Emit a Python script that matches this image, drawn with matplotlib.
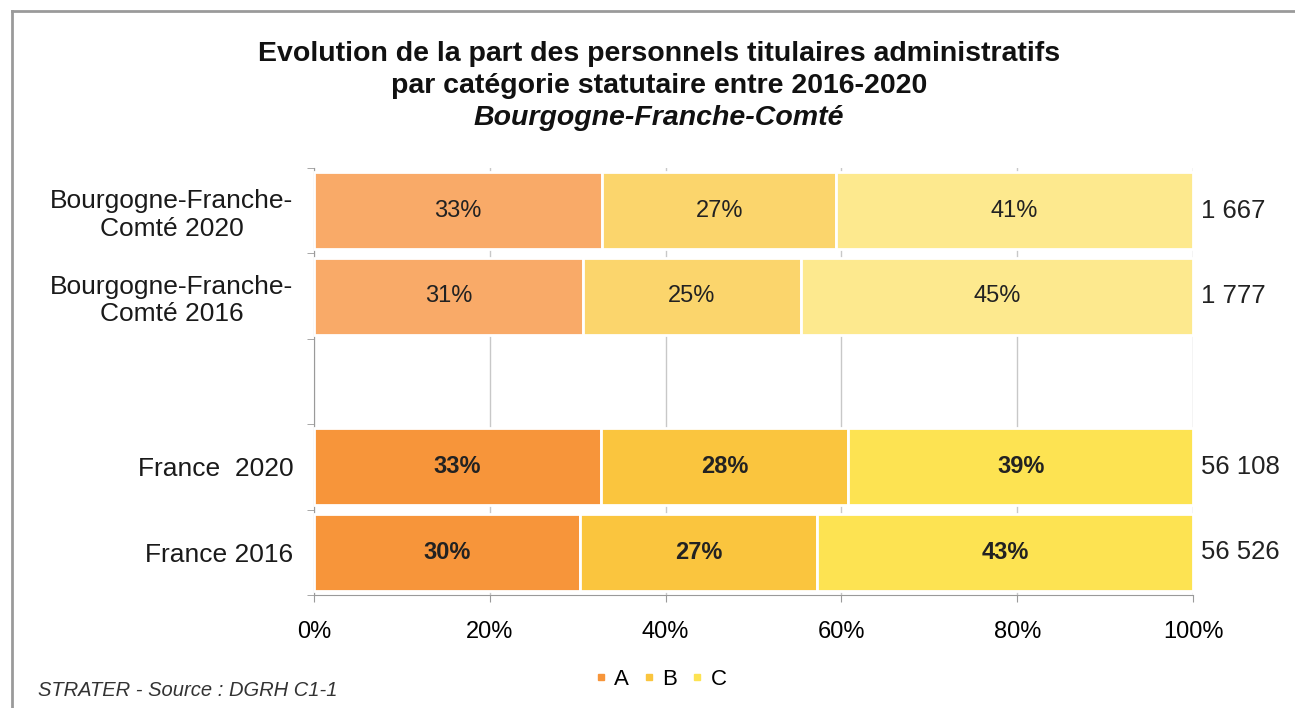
import numpy as np
import matplotlib.pyplot as plt
from matplotlib.lines import Line2D
from matplotlib.transforms import blended_transform_factory

plt.rcParams['font.family'] = ['Liberation Sans', 'DejaVu Sans']

# rows from top to bottom; an empty row separates the region from France
row_labels = ["Bourgogne-Franche-\nComté 2020", "Bourgogne-Franche-\nComté 2016",
              "France  2020", "France 2016"]
row_pos = [0, 1, 3, 4]
cat_a = [32.8, 30.6, 32.6, 30.3]
cat_b = [26.6, 24.8, 28.2, 26.9]
cat_c = [40.6, 44.6, 39.2, 42.8]
effectifs = ["1 667", "1 777", "56 108", "56 526"]
is_france = [False, False, True, True]

colors_region = ["#F9AA68", "#FBD56C", "#FDE98E"]
colors_france = ["#F7953A", "#FAC53E", "#FDE352"]

fig = plt.figure(figsize=(12.95, 7.08), dpi=100)
ax = fig.add_axes([0.2425, 0.1596, 0.6788, 0.6031])

left = np.zeros(len(row_pos))
for k, vals in enumerate([cat_a, cat_b, cat_c]):
    cols = [colors_france[k] if f else colors_region[k] for f in is_france]
    bars = ax.barh(row_pos, vals, left=left, height=0.9, color=cols,
                   edgecolor="white", linewidth=2, zorder=3)
    for b, v, f in zip(bars, vals, is_france):
        ax.text(b.get_x() + b.get_width() / 2, b.get_y() + b.get_height() / 2,
                f"{round(v):d}%", ha="center", va="center", fontsize=17,
                color="#222222", fontweight="bold" if f else "normal", zorder=4)
    left += np.array(vals)

# totals on the right of each bar
trans = blended_transform_factory(ax.transAxes, ax.transData)
for y, n in zip(row_pos, effectifs):
    ax.text(1.009, y, n, transform=trans, ha="left", va="center",
            fontsize=18.5, color="#222222")

ax.set_xlim(0, 100)
ax.set_ylim(4.5, -0.5)
ax.set_xticks(np.arange(0, 101, 20))
ax.set_xticklabels([f"{t}%" for t in range(0, 101, 20)], fontsize=17)
ax.set_yticks(row_pos)
ax.set_yticklabels(row_labels, fontsize=19, multialignment="center",
                   color="#1a1a1a")
ax.set_yticks(np.arange(-0.5, 4.6, 1), minor=True)
ax.tick_params(axis="y", which="major", length=0, pad=15)
ax.tick_params(axis="y", which="minor", length=5, color="#9a9a9a")
ax.tick_params(axis="x", length=5, color="#9a9a9a", pad=14)
ax.xaxis.grid(True, color="#c8c8c8", linewidth=1, zorder=0)
ax.set_axisbelow(True)
for s in ["top", "right"]:
    ax.spines[s].set_visible(False)
for s in ["left", "bottom"]:
    ax.spines[s].set_color("#9a9a9a")

title_lines = ["Evolution de la part des personnels titulaires administratifs",
               "par catégorie statutaire entre 2016-2020",
               "Bourgogne-Franche-Comté"]
for i, (line, y) in enumerate(zip(title_lines, [0.9236, 0.8784, 0.8332])):
    fig.text(0.509, y, line, ha="center", va="center", fontsize=20.5,
             fontweight="bold", style="italic" if i == 2 else "normal",
             color="#111111")

handles = [Line2D([], [], marker="s", linestyle="", markersize=5, color=c)
           for c in colors_france]
fig.legend(handles, ["A", "B", "C"], loc="center", bbox_to_anchor=(0.51, 0.04),
           ncol=3, frameon=False, fontsize=16, handlelength=0.6,
           handletextpad=0.3, columnspacing=0.6)

fig.text(0.029, 0.025, "STRATER - Source : DGRH C1-1", ha="left", va="center",
         fontsize=14.5, style="italic", color="#333333")

# frame around the chart area
fig.add_artist(Line2D([12 / 1295, 1], [1 - 11 / 708, 1 - 11 / 708],
                      transform=fig.transFigure, color="#9a9a9a", linewidth=2))
fig.add_artist(Line2D([12 / 1295, 12 / 1295], [0, 1 - 11 / 708],
                      transform=fig.transFigure, color="#9a9a9a", linewidth=2))

fig.savefig("out.png", dpi=100)
